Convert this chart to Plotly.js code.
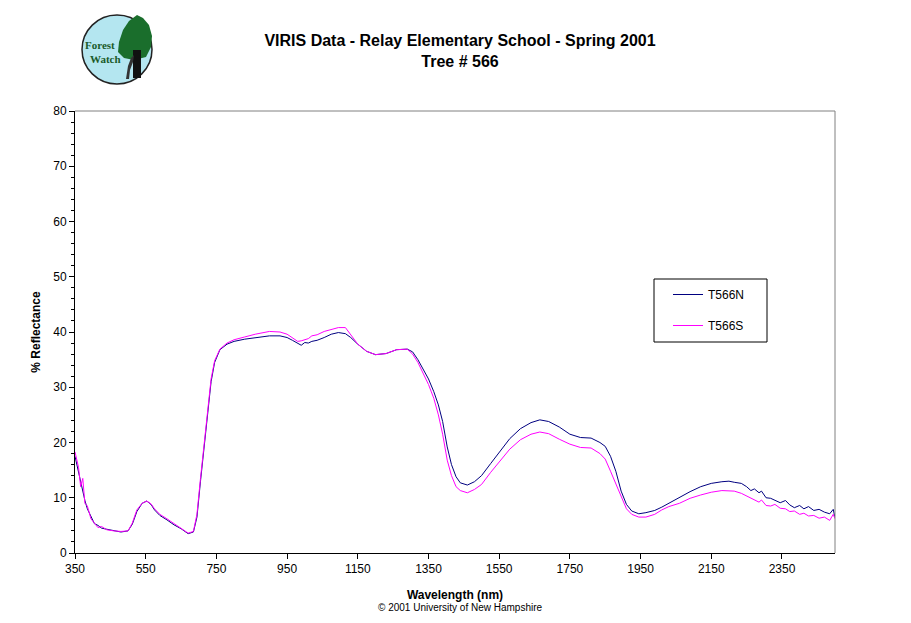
<!DOCTYPE html>
<html>
<head>
<meta charset="utf-8">
<script src="https://cdn.plot.ly/plotly-3.0.1.min.js"></script>
<style>body{margin:0;background:#fff}#chart{width:911px;height:623px}</style>
</head>
<body>
<div id="chart"></div>
<script>
const wavelength = [350,360,366,372,378,385,395,405,415,425,440,460,480,500,512,525,540,553,565,575,590,610,630,650,670,685,695,705,715,725,735,745,760,780,800,830,860,900,930,950,965,980,990,1000,1010,1020,1035,1055,1075,1095,1115,1130,1150,1175,1200,1230,1260,1290,1305,1320,1335,1350,1365,1378,1390,1403,1415,1428,1440,1460,1480,1500,1526,1554,1580,1610,1640,1665,1690,1720,1750,1780,1810,1835,1850,1865,1880,1895,1910,1925,1945,1965,1990,2010,2030,2060,2090,2120,2150,2180,2200,2215,2235,2250,2262,2272,2285,2292,2305,2318,2330,2345,2360,2372,2385,2400,2412,2425,2440,2455,2470,2485,2495,2500];
const t566N = [17.5,14.5,13,11,9.5,8,6.5,5.3,5.0,4.5,4.3,4.0,3.8,4.0,5.2,7.5,9.0,9.4,8.8,7.8,6.8,6.0,5.1,4.4,3.5,3.8,6.5,13,19,26,31,34.5,36.8,37.8,38.3,38.7,39.0,39.3,39.3,39.0,38.5,37.9,37.6,38.1,38.0,38.3,38.5,39.0,39.6,39.9,39.7,39.0,37.8,36.5,35.9,36.1,36.8,36.9,36.4,35.0,33.3,31.5,29.2,26.8,23.8,19.2,16.0,13.8,12.7,12.3,12.9,14.0,16.2,18.6,20.7,22.5,23.6,24.1,23.8,22.8,21.5,20.9,20.8,20.0,19.3,17.5,14.8,11.2,8.8,7.6,7.1,7.3,7.7,8.3,9.0,10.1,11.1,12.0,12.6,12.9,13.0,12.8,12.6,12.0,11.3,11.6,10.9,11.2,10.0,9.9,9.5,9.1,9.5,8.7,8.2,8.6,8.0,8.4,7.7,7.9,7.4,7.1,7.9,6.4];
const t566S = [18.3,15.5,12,13.5,9,8.5,6.2,5.5,4.6,4.8,4.2,4.0,3.9,4.0,5.4,7.8,9.0,9.4,8.9,8.0,7.0,6.2,5.3,4.5,3.6,3.9,7.0,13.5,19.5,26.5,31.5,34.8,36.9,38.0,38.6,39.1,39.6,40.1,40.0,39.6,38.9,38.3,38.4,38.6,38.8,39.3,39.5,40.1,40.5,40.8,40.8,39.5,37.8,36.5,35.9,36.1,36.8,36.9,36.0,34.5,32.6,30.5,28.0,25.0,21.5,16.8,14.0,12.0,11.3,10.9,11.5,12.4,14.6,16.8,18.8,20.5,21.5,21.9,21.6,20.6,19.7,19.1,19.0,18.0,17.0,14.8,12.5,10.0,8.0,7.0,6.5,6.5,7.0,7.8,8.4,9.0,9.9,10.5,11.0,11.3,11.3,11.2,10.8,10.3,9.9,9.6,9.2,9.6,8.6,8.5,8.8,8.1,8.0,7.5,7.6,7.0,7.2,6.7,6.8,6.3,6.5,5.9,7.0,6.2];
const seriesNames = ["T566N","T566S"];
const xTickStart = 350, xTickStep = 200;

const L = 75, R = 835, T = 111, B = 553;
const px = x => (x - L) / (R - L);
const py = y => (B - y) / (B - T);
const F = '"Liberation Sans", Arial, sans-serif';

const traces = [
  {x: wavelength, y: t566N, name: seriesNames[0], type: 'scatter', mode: 'lines', line: {color: '#000080', width: 1}, legendgroup: 'a'},
  {x: wavelength, y: t566S, name: seriesNames[1], type: 'scatter', mode: 'lines', line: {color: '#FF00FF', width: 1}, legendgroup: 'b'}
];

const treePath = [[137,15],[129,21],[123,30],[119,42],[118,52],[124,58],[134,60],[146,57],[151,47],[152,36],[149,25],[143,18]]
  .map((p, i) => (i ? 'L ' : 'M ') + px(p[0]) + ' ' + py(p[1])).join(' ') + ' Z';
const personPath = [[126,79],[128,66],[131,58],[134,55],[133,62],[130,70],[129,79]]
  .map((p, i) => (i ? 'L ' : 'M ') + px(p[0]) + ' ' + py(p[1])).join(' ') + ' Z';

const layout = {
  width: 911, height: 623,
  margin: {l: L, r: 911 - R, t: T, b: 623 - B, pad: 0},
  paper_bgcolor: '#fff', plot_bgcolor: '#fff',
  font: {family: F, size: 12, color: '#000'},
  title: {text: '<b>VIRIS Data - Relay Elementary School - Spring 2001<br>Tree # 566</b>', x: 0.505, xanchor: 'center', y: 0.926, yanchor: 'top', font: {family: F, size: 16, color: '#000'}},
  xaxis: {
    range: [350, 2500], tick0: xTickStart, dtick: xTickStep, showgrid: false, zeroline: false,
    showline: true, linecolor: '#000', linewidth: 1, ticks: 'outside', ticklen: 5, tickcolor: '#000',
    tickfont: {family: F, size: 12},
    title: {text: '<b>Wavelength (nm)</b>', font: {family: F, size: 12}, standoff: 15}
  },
  yaxis: {
    range: [0, 80], dtick: 10, showgrid: false, zeroline: false,
    showline: true, linecolor: '#000', linewidth: 1, ticks: 'outside', ticklen: 5, tickcolor: '#000',
    minor: {dtick: 2, ticks: 'outside', ticklen: 3, tickcolor: '#000'},
    tickfont: {family: F, size: 12},
    title: {text: '<b>% Reflectance</b>', font: {family: F, size: 12}, standoff: 10}
  },
  showlegend: true,
  legend: {
    x: px(668), y: py(280), xanchor: 'left', yanchor: 'top',
    borderwidth: 0, bgcolor: 'rgba(0,0,0,0)',
    font: {family: F, size: 12}, traceorder: 'grouped', tracegroupgap: 12,
    itemwidth: 30
  },
  shapes: [
    {type: 'line', xref: 'paper', yref: 'paper', x0: 0, x1: 1, y0: 1, y1: 1, line: {color: '#808080', width: 1}},
    {type: 'line', xref: 'paper', yref: 'paper', x0: 1, x1: 1, y0: 0, y1: 1, line: {color: '#808080', width: 1}},
    {type: 'rect', xref: 'paper', yref: 'paper', x0: px(654), x1: px(767), y0: py(342), y1: py(279), fillcolor: 'rgba(0,0,0,0)', line: {color: '#000', width: 1}},
    {type: 'circle', layer: 'below', xref: 'paper', yref: 'paper', x0: px(82), x1: px(152), y0: py(84), y1: py(15), fillcolor: '#b4e6f0', line: {color: '#222', width: 1.5}},
    {type: 'path', layer: 'below', xref: 'paper', yref: 'paper', path: treePath, fillcolor: '#1a6e2c', line: {width: 0}},
    {type: 'rect', layer: 'below', xref: 'paper', yref: 'paper', x0: px(133), x1: px(141), y0: py(78), y1: py(50), fillcolor: '#111', line: {width: 0}},
    {type: 'path', layer: 'below', xref: 'paper', yref: 'paper', path: personPath, fillcolor: '#333', line: {width: 0}}
  ],
  annotations: [
    {xref: 'paper', yref: 'paper', x: px(100), y: py(45), xanchor: 'center', yanchor: 'middle', text: '<b>Forest</b>', showarrow: false, font: {family: '"Liberation Serif", serif', size: 11, color: '#1a5a2a'}},
    {xref: 'paper', yref: 'paper', x: px(105), y: py(59), xanchor: 'center', yanchor: 'middle', text: '<b>Watch</b>', showarrow: false, font: {family: '"Liberation Serif", serif', size: 11, color: '#1a5a2a'}},
    {xref: 'paper', yref: 'paper', x: px(460), y: py(607), xanchor: 'center', yanchor: 'middle', text: '© 2001 University of New Hampshire', showarrow: false, font: {family: F, size: 10}}
  ]
};

Plotly.newPlot('chart', traces, layout, {displayModeBar: false, staticPlot: true});
</script>
</body>
</html>
